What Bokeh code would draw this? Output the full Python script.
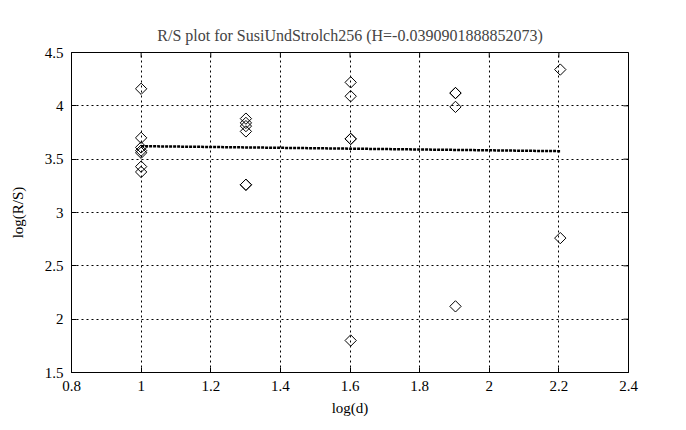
from bokeh.plotting import figure
from bokeh.models import Range1d, FixedTicker, NumeralTickFormatter, ColumnDataSource
from bokeh.embed import file_html
from bokeh.resources import INLINE
import math

title_text = "R/S plot for SusiUndStrolch256 (H=-0.0390901888852073)"
x_label = "log(d)"
y_label = "log(R/S)"

log_d = [1.0, 1.0, 1.0, 1.0, 1.0, 1.0, 1.0,
         1.301, 1.301, 1.301, 1.301, 1.301, 1.301,
         1.602, 1.602, 1.602, 1.602, 1.602,
         1.903, 1.903, 1.903, 1.903,
         2.204, 2.204]
log_rs = [4.16, 3.70, 3.61, 3.58, 3.56, 3.43, 3.38,
          3.88, 3.84, 3.81, 3.76, 3.26, 3.26,
          4.22, 4.09, 3.69, 3.69, 1.80,
          4.12, 4.12, 3.99, 2.12,
          4.34, 2.76]

fit_x = [1.0, 2.204]
fit_y = [3.622, 3.575]

x_ticks = [0.8, 1.0, 1.2, 1.4, 1.6, 1.8, 2.0, 2.2, 2.4]
y_ticks = [1.5, 2.0, 2.5, 3.0, 3.5, 4.0, 4.5]
x_min, x_max = 0.8, 2.4
y_min, y_max = 1.5, 4.5

FONT = "Liberation Serif"

p = figure(width=680, height=424, output_backend="svg", toolbar_location=None,
           x_range=Range1d(x_min, x_max), y_range=Range1d(y_min, y_max),
           min_border_left=71, min_border_right=52, min_border_top=52, min_border_bottom=52)

p.title.text = title_text
p.title.align = "center"
p.title.text_font = FONT
p.title.text_font_size = "16px"
p.title.text_font_style = "normal"
p.title.standoff = 18

p.outline_line_color = "black"
p.outline_line_alpha = 1
p.outline_line_width = 1
p.background_fill_color = "white"
p.border_fill_color = "white"

for ax in [p.xaxis[0], p.yaxis[0]]:
    ax.major_tick_in = 5
    ax.major_tick_out = 0
    ax.minor_tick_line_color = None
    ax.axis_line_color = "black"
    ax.major_tick_line_color = "black"
    ax.major_label_text_font = FONT
    ax.major_label_text_font_size = "15px"
    ax.major_label_text_color = "black"
    ax.axis_label_text_font = FONT
    ax.axis_label_text_font_size = "15px"
    ax.axis_label_text_font_style = "normal"
    ax.axis_label_text_color = "black"
    ax.formatter = NumeralTickFormatter(format="0.[0]")

p.xaxis[0].ticker = FixedTicker(ticks=x_ticks)
p.yaxis[0].ticker = FixedTicker(ticks=y_ticks)
p.xaxis[0].axis_label = x_label
p.yaxis[0].axis_label = y_label
p.xaxis[0].major_label_standoff = 8
p.xaxis[0].axis_label_standoff = 6
p.yaxis[0].major_label_standoff = 8
p.yaxis[0].axis_label_standoff = 16

p.xgrid.ticker = FixedTicker(ticks=x_ticks)
p.ygrid.ticker = FixedTicker(ticks=y_ticks)
for g in [p.xgrid[0], p.ygrid[0]]:
    g.grid_line_color = "black"
    g.grid_line_dash = "2 3"
    g.grid_line_width = 1
    g.grid_line_alpha = 1

# inward tick marks on the top and right edges of the box (clipped to the frame)
p.scatter(x=x_ticks, y=[y_max] * len(x_ticks), marker="dash", angle=math.pi / 2,
          size=10, line_color="black", line_width=1)
p.scatter(x=[x_max] * len(y_ticks), y=y_ticks, marker="dash",
          size=10, line_color="black", line_width=1)

src = ColumnDataSource(dict(x=log_d, y=log_rs))
p.scatter("x", "y", source=src, marker="square", angle=math.pi / 4, size=8,
          fill_color=None, line_color="black", line_width=1)

p.line(fit_x, fit_y, line_color="black", line_width=2.5, line_dash="3 1")

open("out.html", "w").write(file_html(p, INLINE))
